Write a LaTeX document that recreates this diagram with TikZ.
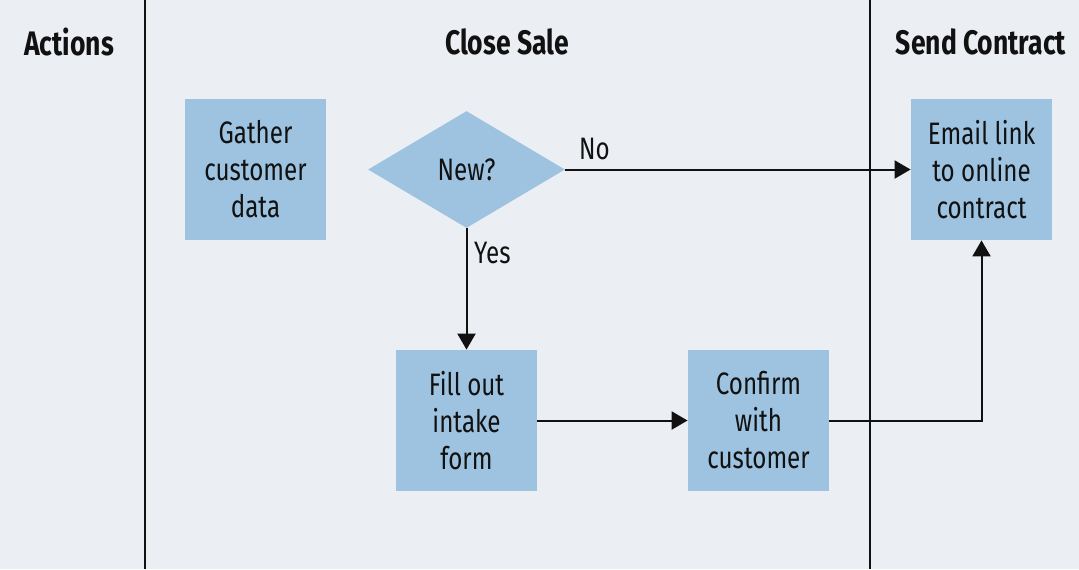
\documentclass[tikz,border=0pt]{standalone}
\usepackage{fontspec}
\setmainfont[FakeStretch=0.78]{Fira Sans}
\usetikzlibrary{arrows.meta, positioning, shapes.geometric}
\definecolor{lanebg}{HTML}{EBEEF2}
\definecolor{boxfill}{HTML}{9DC3E0}
\definecolor{ink}{HTML}{111111}

\begin{document}
\begin{tikzpicture}[
  x=0.5pt, y=-0.5pt,
  box/.style={fill=boxfill, minimum width=70.5pt, minimum height=70.5pt,
              inner sep=0pt, font=\fontsize{15.5}{18.5}\selectfont,
              text=ink, align=center},
  decision/.style={diamond, fill=boxfill, minimum width=98.5pt,
                   minimum height=58.5pt, inner sep=0pt,
                   font=\fontsize{15.5}{18.5}\selectfont, text=ink},
  head/.style={font=\fontsize{17}{20}\selectfont\bfseries, text=ink},
  lbl/.style={font=\fontsize{15.5}{18.5}\selectfont, text=ink},
  lane/.style={draw=ink, line width=1pt},
  arr/.style={-{Triangle[length=8pt, width=9pt]}, draw=ink, line width=1pt}
]
  % background and lanes
  \fill[lanebg] (0,0) rectangle (1079,569);
  \useasboundingbox (0,0) rectangle (1079,569);
  \draw[lane] (145,0) -- (145,569);
  \draw[lane] (870,0) -- (870,569);

  \node[head] (hactions) at (69,42) {Actions};
  \node[head] (hclose) at (507,42) {Close Sale};
  \node[head] (hsend) at (981,42) {Send Contract};

  % steps
  \node[box] (gather) at (255.5,169.5) {Gather\\customer\\data};
  \node[decision] (new) at (466.5,169.5) {New?};
  \node[box] (email) at (981.5,169.5) {Email link\\to online\\contract};
  \node[box] (intake) at (466.5,420.5) {Fill out\\intake\\form};
  \node[box] (confirm) at (758.5,420.5) {Confirm\\with\\customer};

  \draw[arr] (new.east) -- node[lbl, pos=0, anchor=south west, xshift=3pt, yshift=1pt] {No} (email.west);
  \draw[arr] (new.south) -- node[lbl, right, pos=0.2] {Yes} (intake.north);
  \draw[arr] (intake.east) -- (confirm.west);
  \draw[arr] (confirm.east) -| (email.south);
\end{tikzpicture}
\end{document}
